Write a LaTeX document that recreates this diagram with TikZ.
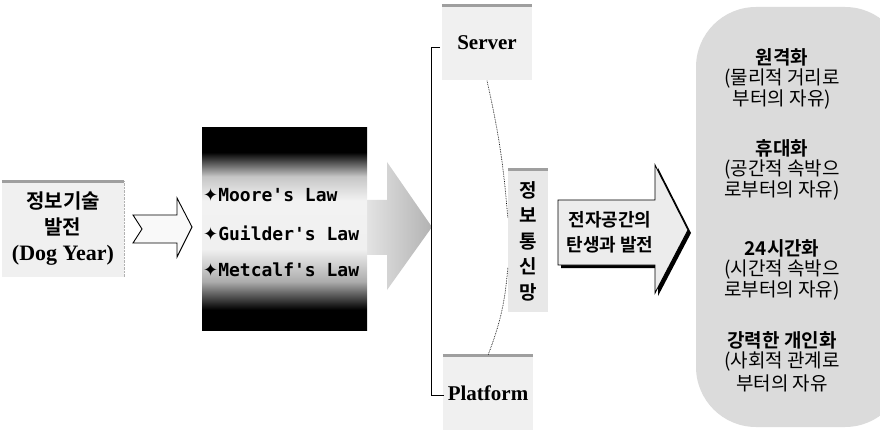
\documentclass[tikz,border=0pt]{standalone}
\usepackage{fontspec}
\setmainfont{Liberation Serif}
\newfontfamily\krfont{Noto Sans CJK KR}[BoldFont={Noto Sans CJK KR Bold}]
\newfontfamily\lawfont{DejaVu Sans Mono}
\newfontfamily\starfont{DejaVu Sans}
\pgfdeclareverticalshading{lawshade}{100bp}{color(0bp)=(black); color(30bp)=(black);
  color(37bp)=(gray!65); color(45bp)=(gray!12); color(57bp)=(gray!10); color(63bp)=(gray!45);
  color(69bp)=(black); color(100bp)=(black)}
\begin{document}
\begin{tikzpicture}[x=1pt,y=-1pt,
  band/.style={draw=gray!75,line width=3pt},
  lightbox/.style={fill=gray!12,inner sep=0pt},
  kr/.style={font=\krfont\bfseries\fontsize{19}{25.5}\selectfont},
  law/.style={font=\lawfont\bfseries\fontsize{18}{20}\selectfont,anchor=west,inner sep=0pt},
  ttl/.style={font=\krfont\bfseries\fontsize{19}{21}\selectfont},
  sub/.style={font=\krfont\fontsize{19}{21}\selectfont},
  link/.style={densely dotted,line width=.7pt}]
  \useasboundingbox (0,0) rectangle (880,430);

  % left box and hollow arrow
  \node[lightbox,minimum width=122,minimum height=95,align=center,
        font=\krfont\bfseries\fontsize{20}{26}\selectfont] (info) at (63,229)
        {정보기술\\발전\\\rmfamily\bfseries\fontsize{22}{26}\selectfont(Dog Year)};
  \draw[band] (info.north west) -- (info.north east);
  \draw[gray!60,densely dotted] (info.north east) -- (info.south east);
  \draw[fill=gray!5,line width=.9pt] (133,215) -- (177,215) -- (177,198) -- (192,227)
        -- (177,257) -- (177,243) -- (133,243) -- (142,229) -- cycle;

  % gray arrow behind the laws
  \shade[left color=gray!15,right color=gray!60] (355,200) -- (387,200) -- (387,162)
        -- (432,227) -- (387,290) -- (387,255) -- (355,255) -- cycle;
  \node[minimum width=165,minimum height=202,inner sep=0pt,shading=lawshade] (laws) at (284.5,229) {};
  \foreach \n/\y/\t in {moore/195/Moore's Law, guilder/233/Guilder's Law, metcalf/270/Metcalf's Law}
    \node[law] (\n) at (203,\y) {{\starfont ✦}\t};

  % server, network, platform
  \node[lightbox,minimum width=90,minimum height=75,font=\bfseries\fontsize{21}{24}\selectfont] (srv) at (487,43) {Server};
  \draw[band] (srv.north west) -- (srv.north east);
  \node[lightbox,minimum width=90,minimum height=75,font=\bfseries\fontsize{21}{24}\selectfont] (plt) at (488,393) {Platform};
  \draw[band] (plt.north west) -- (plt.north east);
  \node[lightbox,fill=gray!18,kr,align=center,minimum width=40,minimum height=142] (net) at (528,241)
        {정\\보\\통\\신\\망};
  \draw[band] (net.north west) -- (net.north east);
  \coordinate (b1) at (440,47);
  \coordinate (b2) at (444,395);
  \draw[line width=.9pt] (b1) -- ++(-9,0) |- (b2);
  \draw[link] (srv.south) to[bend left=4] ([yshift=23]net.west);
  \draw[link] ([yshift=-27]net.west) to[bend left=8] (plt.north);

  % electronic space arrow
  \fill[black] (561,203) -- (658,203) -- (658,168) -- (691,233) -- (658,296) -- (658,268)
        -- (561,268) -- cycle;
  \draw[fill=gray!15,line width=.9pt] (558,200) -- (655,200) -- (655,165) -- (688,230)
        -- (655,293) -- (655,265) -- (558,265) -- cycle;
  \node[kr,align=center,font=\krfont\bfseries\fontsize{18}{25}\selectfont] (ecs) at (610,232)
        {전자공간의\\탄생과 발전};

  % right panel
  \begin{scope}
    \clip (0,0) rectangle (880,430);
    \fill[gray!28,rounded corners=60] (696,7) rectangle (905,427);
  \end{scope}
  \foreach \n/\y/\t in {g1/57/원격화, g2/148/휴대화, g3/248/24시간화, g4/340/강력한 개인화}
    \node[ttl] (\n) at (782,\y) {\t};
  \foreach \n/\y/\t in {s1/79/{(물리적 거리로}, s2/100/{부터의 자유)},
                        s3/170/{(공간적 속박으}, s4/191/{로부터의 자유)},
                        s5/270/{(시간적 속박으}, s6/291/{로부터의 자유)},
                        s7/362/{(사회적 관계로}, s8/383/{부터의 자유}}
    \node[sub] (\n) at (782,\y) {\t};
\end{tikzpicture}
\end{document}
